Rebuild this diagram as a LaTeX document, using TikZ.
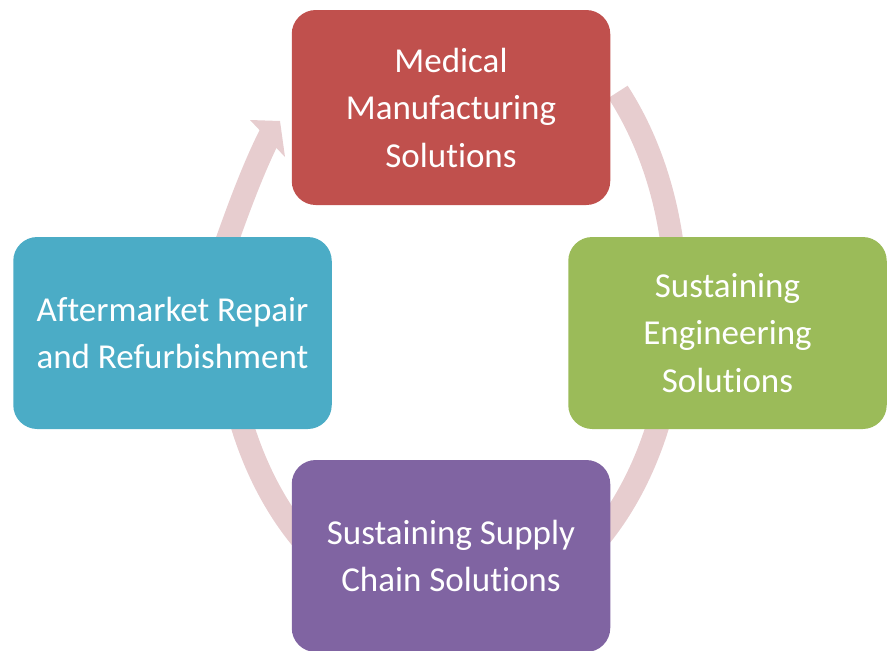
\documentclass[tikz,border=0pt]{standalone}
\usepackage{fontspec}
\setmainfont[RawFeature={-liga;-clig;-calt;-dlig}]{Carlito}
\definecolor{bandc}{RGB}{231,205,207}
\definecolor{cred}{RGB}{192,80,77}
\definecolor{cgreen}{RGB}{155,187,89}
\definecolor{cpurple}{RGB}{128,100,162}
\definecolor{cblue}{RGB}{75,172,198}
\begin{document}
\begin{tikzpicture}[x=1pt,y=-1pt,
  box/.style={rounded corners=24pt, inner sep=0pt, minimum width=318.5pt,
    align=center, text=white, font=\fontsize{35}{47.5}\selectfont},
  band/.style={draw=bandc, line width=23pt, line cap=butt}]
\useasboundingbox (0,0) rectangle (887,651);
% ring centre
\coordinate (ctr) at (450,302);
% top-right arc
\draw[band] ([shift={(-42:226 and 314)}]ctr) arc[start angle=-42, end angle=-3, x radius=226, y radius=314];
% bottom-right arc
\draw[band] ([shift={(8:226 and 314)}]ctr) arc[start angle=8, end angle=48, x radius=226, y radius=314];
% bottom-left arc
\draw[band] ([shift={(128:226 and 314)}]ctr) arc[start angle=128, end angle=172, x radius=226, y radius=314];
% top-left arc with head
\coordinate (tl0) at (222,255);
\coordinate (tlb) at (270,135);
\coordinate (hl) at (250,120);
\coordinate (ht) at (280,121);
\coordinate (hr) at (285,157);
\draw[band] (tl0) .. controls (235.2,217.4) and (252,170.6) .. (tlb);
\fill[bandc] (hl) -- (ht) -- (hr) -- cycle;
% boxes
\node[box, fill=cred, minimum height=195pt] (med) at (451,107.5)
  {Medical\\Manufacturing\\Solutions};
\node[box, fill=cgreen, minimum height=192pt] (eng) at (727.5,333)
  {Sustaining\\Engineering\\Solutions};
\node[box, fill=cpurple, minimum height=192pt] (sup) at (451,556)
  {Sustaining Supply\\Chain Solutions};
\node[box, fill=cblue, minimum height=192pt] (aft) at (172.5,333)
  {Aftermarket Repair\\and Refurbishment};
\end{tikzpicture}
\end{document}
